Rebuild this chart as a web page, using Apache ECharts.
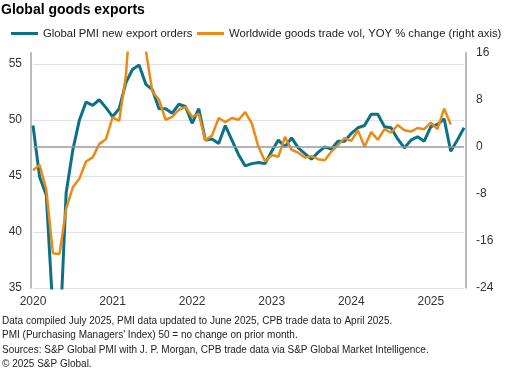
<!DOCTYPE html>
<html>
<head>
<meta charset="utf-8">
<script src="https://cdn.jsdelivr.net/npm/echarts@6/dist/echarts.min.js"></script>
<style>
  html, body { margin: 0; padding: 0; background: #fff; }
  #chart { width: 508px; height: 370px; }
</style>
</head>
<body>
<div id="chart"></div>
<script>
// monthly categories, Jan 2020 - Jun 2025
const yearLabels = ['2020', '2021', '2022', '2023', '2024', '2025'];
const months = [];
yearLabels.forEach(y => {
  for (let m = 1; m <= 12; m++) months.push(y + '-' + String(m).padStart(2, '0'));
});
months.length = 66;

// Global PMI new export orders (left axis)
const pmiExportOrders = [
  49.5, 44.9, 43.3, 33.0, 30.0, 43.5, 47.3, 50.0, 51.6, 51.3, 51.8, 51.1,
  50.3, 51.0, 53.3, 54.5, 54.9, 53.2, 52.7, 51.0, 51.0, 50.6, 51.4, 51.2,
  49.7, 51.0, 48.2, 48.3, 47.9, 49.5, 48.2, 46.9, 45.9, 46.1, 46.2, 46.1,
  47.2, 48.2, 47.6, 48.4, 47.5, 47.0, 46.5, 47.1, 47.6, 47.4, 48.1, 48.1,
  48.8, 49.3, 49.5, 50.5, 50.5, 49.4, 49.3, 48.3, 47.5, 48.2, 48.5, 48.1,
  49.4, 49.6, 50.1, 47.2, 48.2, 49.3
];

// Worldwide goods trade volume, YOY % change (right axis), to Apr 2025
const tradeVolYoy = [
  -4.0, -3.1, -7.2, -18.1, -18.2, -10.5, -6.9, -5.4, -2.5, -1.8, 0.5, 1.3,
  5.0, 4.4, 12.0, 27.0, 24.0, 16.5, 9.4, 8.0, 4.6, 5.1, 6.3, 6.8,
  5.1, 5.6, 1.1, 1.9, 4.9, 4.2, 4.9, 4.6, 5.9, 4.0, 0.0, -2.5,
  -1.4, -1.7, 1.7, -0.5, -1.0, -1.8, -1.6, -2.1, -2.3, -0.8, 0.3, 1.5,
  1.0, 2.8, 0.0, 2.5, 1.2, 3.0, 2.4, 3.7, 2.8, 2.6, 3.2, 3.0,
  4.1, 3.0, 6.5, 3.8
];

const leftTicks = [35, 40, 45, 50, 55];
const rightTicks = [-24, -16, -8, 0, 8, 16];

const seriesNames = [
  'Global PMI new export orders',
  'Worldwide goods trade vol, YOY % change (right axis)'
];

const footnotes = [
  'Data compiled July 2025, PMI data updated to June 2025, CPB trade data to April 2025.',
  "PMI (Purchasing Managers' Index) 50 = no change on prior month.",
  'Sources: S&P Global PMI with J. P. Morgan, CPB trade data via S&P Global Market Intelligence.',
  '\u00a9 2025 S&P Global.'
];
const footnoteY = [322, 336, 351, 365];

const font = 'Liberation Sans, Arial, sans-serif';
const teal = '#0b7189';
const orange = '#eb8a14';

const legendBase = {
  top: 28,
  padding: 0,
  itemWidth: 27,
  itemHeight: 3,
  icon: 'rect',
  textStyle: { fontFamily: font, fontSize: 11.3, color: '#222' }
};

const chart = echarts.init(document.getElementById('chart'));
chart.setOption({
  animation: false,
  backgroundColor: '#fff',
  title: {
    text: 'Global goods exports',
    left: 1,
    top: 3,
    padding: 0,
    textStyle: { fontFamily: font, fontSize: 14, fontWeight: 'bold', color: '#000' }
  },
  legend: [
    Object.assign({}, legendBase, { left: 11, data: [seriesNames[0]] }),
    Object.assign({}, legendBase, { left: 197, data: [seriesNames[1]] })
  ],
  grid: { left: 33, right: 44, top: 52.7, bottom: 82 },
  xAxis: {
    type: 'category',
    data: months,
    boundaryGap: false,
    axisLine: { show: false },
    axisTick: { show: false },
    axisLabel: {
      interval: (idx) => idx % 12 === 0,
      formatter: (v) => v.slice(0, 4),
      margin: 8,
      fontFamily: font,
      fontSize: 12,
      color: '#333'
    },
    splitLine: { show: false }
  },
  yAxis: [
    {
      type: 'value',
      position: 'left',
      min: leftTicks[0],
      max: 56,
      interval: 5,
      offset: 2,
      axisLine: { show: true, lineStyle: { color: '#a6a6a6', width: 1.5 } },
      axisTick: { show: false },
      axisLabel: {
        margin: 9,
        fontFamily: font,
        fontSize: 12,
        color: '#333',
        formatter: (v) => leftTicks.includes(v) ? String(v) : ''
      },
      splitLine: { show: true, showMaxLine: false, lineStyle: { color: '#e2e2e2', width: 1 } }
    },
    {
      type: 'value',
      position: 'right',
      min: rightTicks[0],
      max: rightTicks[rightTicks.length - 1],
      interval: 8,
      offset: 2,
      axisLine: { show: true, lineStyle: { color: '#a6a6a6', width: 1.5 } },
      axisTick: { show: false },
      axisLabel: { margin: 10, fontFamily: font, fontSize: 12, color: '#333' },
      splitLine: { show: false }
    }
  ],
  series: [
    {
      name: seriesNames[0],
      type: 'line',
      yAxisIndex: 0,
      data: pmiExportOrders,
      showSymbol: false,
      symbol: 'none',
      color: teal,
      lineStyle: { color: teal, width: 3 }
    },
    {
      name: seriesNames[1],
      type: 'line',
      yAxisIndex: 1,
      data: tradeVolYoy,
      showSymbol: false,
      symbol: 'none',
      color: orange,
      lineStyle: { color: orange, width: 2.5 },
      markLine: {
        silent: true,
        symbol: 'none',
        label: { show: false },
        lineStyle: { color: '#9a9a9a', type: 'solid', width: 1.5 },
        data: [{ yAxis: 0 }]
      },
      z: 3
    }
  ],
  graphic: footnotes.map((t, i) => ({
    type: 'text',
    left: 2,
    top: footnoteY[i] - 6,
    style: { text: t, fontFamily: font, fontSize: 10, fill: '#222' }
  }))
});
</script>
</body>
</html>
